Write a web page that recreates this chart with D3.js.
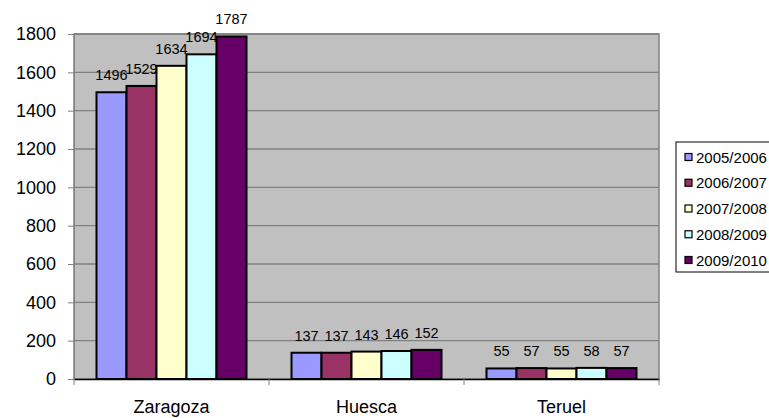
<!DOCTYPE html>
<html><head><meta charset="utf-8">
<script src="https://cdn.jsdelivr.net/npm/d3@7"></script>
<style>body{margin:0;background:#fff;}text{font-family:Arial,"Liberation Sans",sans-serif;}</style>
</head><body><svg id="c" width="769" height="418"></svg>
<script>
const categories = ["Zaragoza","Huesca","Teruel"];
const seriesNames = ["2005/2006","2006/2007","2007/2008","2008/2009","2009/2010"];
const s2005 = [1496,137,55];
const s2006 = [1529,137,57];
const s2007 = [1634,143,55];
const s2008 = [1694,146,58];
const s2009 = [1787,152,57];
const seriesValues = [s2005,s2006,s2007,s2008,s2009];
const colors = ["#9999FF","#993366","#FFFFCC","#CCFFFF","#660066"];
const yTicks = [0,200,400,600,800,1000,1200,1400,1600,1800];

const svg = d3.select("#c");
const L=74,R=659,T=34,B=379;
const x = d3.scaleBand().domain(categories).range([L,R]);
const y = d3.scaleLinear().domain([0,1800]).range([B,T]);
const inner = d3.scaleBand().domain(seriesNames).range([0,150]);

svg.append("rect").attr("x",L).attr("y",T).attr("width",R-L).attr("height",B-T)
  .attr("fill","#C0C0C0").attr("stroke","#808080").attr("stroke-width",1.5);
svg.append("g").selectAll("line").data(yTicks.filter(d=>d>0)).join("line")
  .attr("x1",L).attr("x2",R).attr("y1",d=>y(d)).attr("y2",d=>y(d))
  .attr("stroke","#808080").attr("stroke-width",1.3);

const yAxis = svg.append("g").attr("transform",`translate(${L},0)`)
  .call(d3.axisLeft(y).tickValues(yTicks).tickFormat(d3.format("d")).tickSize(6).tickPadding(12));
yAxis.select(".domain").attr("stroke","#808080");
yAxis.selectAll(".tick line").attr("stroke","#808080");
yAxis.selectAll("text").attr("font-size","18px").attr("fill","#000").attr("font-family","Arial,'Liberation Sans',sans-serif");

const xAxis = svg.append("g").attr("transform",`translate(0,${B})`)
  .call(d3.axisBottom(x).tickSize(0).tickPadding(21));
xAxis.select(".domain").attr("stroke","#000").attr("stroke-width",1.5);
xAxis.selectAll("text").attr("font-size","18px").attr("fill","#000").attr("font-family","Arial,'Liberation Sans',sans-serif");
svg.append("g").selectAll("line").data([L,L+x.step(),L+2*x.step(),R]).join("line")
  .attr("x1",d=>d).attr("x2",d=>d).attr("y1",B).attr("y2",B+6).attr("stroke","#808080");

const off = (x.bandwidth()-150)/2;
seriesNames.forEach((s,i)=>{
  const g = svg.append("g");
  g.selectAll("rect").data(categories).join("rect")
    .attr("x",(c)=>x(c)+off+inner(s)).attr("width",inner.bandwidth())
    .attr("y",(c,j)=>y(seriesValues[i][j])).attr("height",(c,j)=>B-y(seriesValues[i][j]))
    .attr("fill",colors[i]).attr("stroke","#000").attr("stroke-width",2);
  g.selectAll("text").data(categories).join("text")
    .attr("x",(c)=>x(c)+off+inner(s)+inner.bandwidth()/2)
    .attr("y",(c,j)=>y(seriesValues[i][j])-12)
    .attr("text-anchor","middle").attr("font-size","14.5px")
    .text((c,j)=>seriesValues[i][j]);
});

const lg = svg.append("g");
lg.append("rect").attr("x",676).attr("y",142).attr("width",100).attr("height",130)
  .attr("fill","#fff").attr("stroke","#000").attr("stroke-width",1);
seriesNames.forEach((s,i)=>{
  const cy = 157 + i*25.75;
  lg.append("rect").attr("x",685).attr("y",cy-3.5).attr("width",7).attr("height",7)
    .attr("fill",colors[i]).attr("stroke","#000").attr("stroke-width",1.2);
  lg.append("text").attr("x",696).attr("y",cy+5.5).attr("font-size","15px").text(s);
});
</script></body></html>
